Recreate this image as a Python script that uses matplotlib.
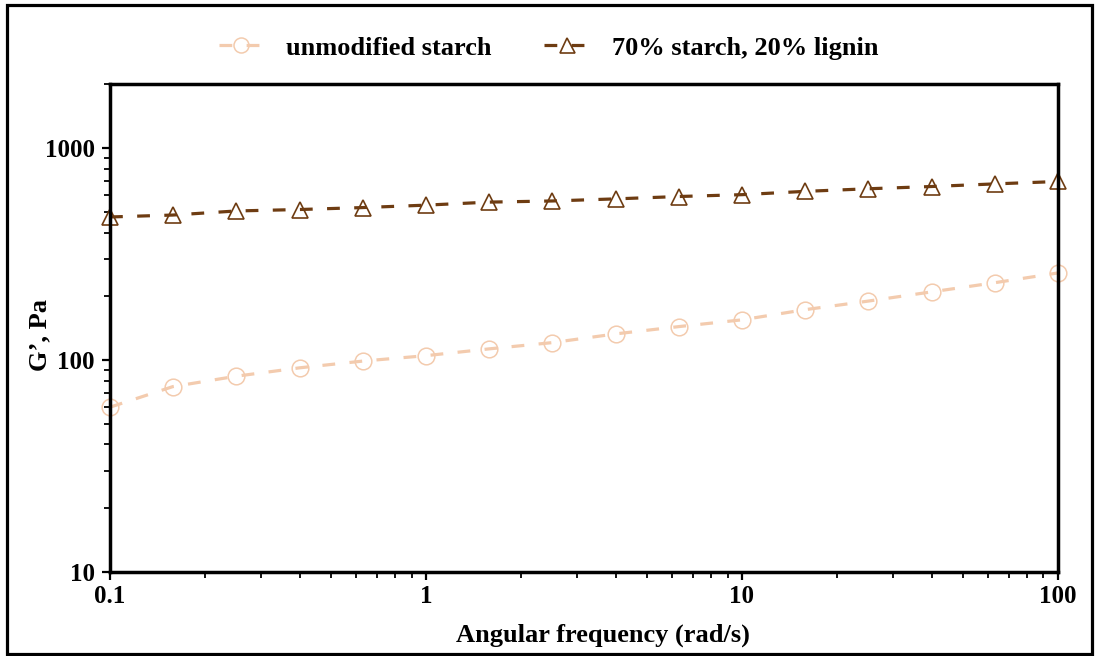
import matplotlib.pyplot as plt
import matplotlib.patches as patches
from matplotlib.ticker import LogLocator, NullFormatter, FixedLocator, FixedFormatter

plt.rcParams['font.family'] = ['Liberation Serif', 'DejaVu Serif']
plt.rcParams['font.weight'] = 'bold'

freq = [0.1, 0.158, 0.251, 0.398, 0.631, 1, 1.58, 2.51, 3.98, 6.31,
        10, 15.8, 25.1, 39.8, 63.1, 100]
starch = [60, 75, 84, 92, 99, 105, 113, 121, 133, 144,
          155, 173, 190, 210, 232, 258]
lignin = [474, 484, 506, 514, 525, 539, 557, 564, 577, 592,
          604, 626, 644, 660, 679, 697]

labels = ['unmodified starch', '70% starch, 20% lignin']
colors = ['#F3CBAE', '#6E3C12']

fig = plt.figure(figsize=(10.97, 6.56), dpi=100)
ax = fig.add_axes([0.1003, 0.128, 0.8641, 0.7432])

ax.plot(freq, starch, ls=(0, (4, 4.5)), lw=2.3, color=colors[0], marker='o',
        ms=12, mfc='none', mec=colors[0], mew=1.1, label=labels[0], clip_on=False)
ax.plot(freq, lignin, ls=(0, (4, 4.5)), lw=2.3, color=colors[1], marker='^',
        ms=12, mfc='none', mec=colors[1], mew=1.2, label=labels[1], clip_on=False)

ax.set_xscale('log')
ax.set_yscale('log')
ax.set_xlim(0.1, 100)
ax.set_ylim(10, 2000)

ax.yaxis.set_major_locator(FixedLocator([10, 100, 1000]))
ax.yaxis.set_major_formatter(FixedFormatter(['10', '100', '1000']))
ax.xaxis.set_major_locator(FixedLocator([0.1, 1, 10, 100]))
ax.xaxis.set_major_formatter(FixedFormatter(['0.1', '1', '10', '100']))
ax.yaxis.set_minor_locator(LogLocator(base=10, subs=range(2, 10)))
ax.xaxis.set_minor_locator(LogLocator(base=10, subs=range(2, 10)))
ax.xaxis.set_minor_formatter(NullFormatter())
ax.yaxis.set_minor_formatter(NullFormatter())

for s in ax.spines.values():
    s.set_linewidth(2.5)
ax.tick_params(which='major', direction='out', length=6, width=1.6,
               labelsize=18, top=False, right=False)
ax.tick_params(which='minor', direction='out', length=4, width=1.3,
               top=False, right=False)
ax.tick_params(axis='x', which='major', pad=3)
ax.tick_params(axis='y', which='major', pad=5)
for t in ax.get_xticklabels() + ax.get_yticklabels():
    t.set_fontweight('bold')

ax.set_xlabel('Angular frequency (rad/s)', fontsize=19, fontweight='bold')
ax.set_ylabel('G\u2019, Pa', fontsize=19, fontweight='bold')
ax.xaxis.set_label_coords(0.52, -0.105)
ax.yaxis.set_label_coords(-0.062, 0.487)

fig.legend(loc='center', bbox_to_anchor=(0.5, 1 - 48 / 656), ncol=2, frameon=False,
           handlelength=1.7, handletextpad=0.85, columnspacing=2.0,
           markerscale=0.9, prop={'weight': 'bold', 'size': 19})

# border round the whole figure
fig.patches.append(patches.Rectangle((6.5 / 1097, 2 / 656), 1085.5 / 1097, 649 / 656,
                                     transform=fig.transFigure, fill=False,
                                     edgecolor='black', linewidth=2.3))

fig.savefig('out.png', dpi=100)
